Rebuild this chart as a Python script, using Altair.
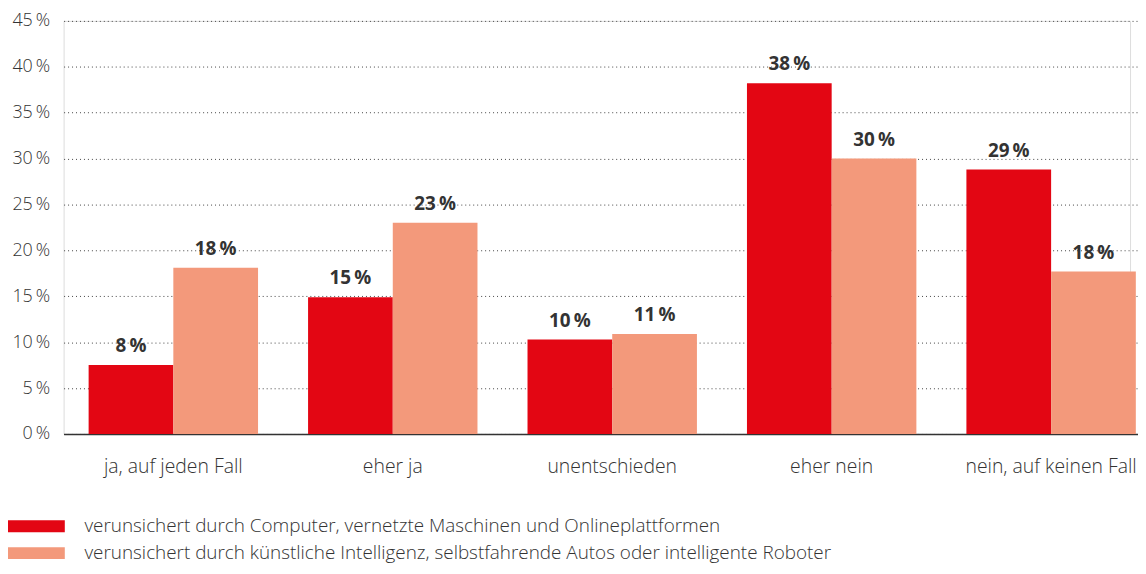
import altair as alt
import pandas as pd

categories = ["ja, auf jeden Fall", "eher ja", "unentschieden", "eher nein", "nein, auf keinen Fall"]
series = [
    "verunsichert durch Computer, vernetzte Maschinen und Onlineplattformen",
    "verunsichert durch künstliche Intelligenz, selbstfahrende Autos oder intelligente Roboter",
]
values_computer = [7.5, 14.9, 10.3, 38.2, 28.8]
values_ki = [18.1, 23.0, 10.9, 30.0, 17.7]
labels_computer = ["8\u2009%", "15\u2009%", "10\u2009%", "38\u2009%", "29\u2009%"]
labels_ki = ["18\u2009%", "23\u2009%", "11\u2009%", "30\u2009%", "18\u2009%"]
colors = ["#E30613", "#F3997B"]
y_ticks = [0, 5, 10, 15, 20, 25, 30, 35, 40, 45]

rows = []
for i, c in enumerate(categories):
    rows.append({"cat": c, "series": series[0], "value": values_computer[i], "label": labels_computer[i]})
    rows.append({"cat": c, "series": series[1], "value": values_ki[i], "label": labels_ki[i]})
df = pd.DataFrame(rows)

FONT = "Open Sans"
TXT = "#333333"

x = alt.X("cat:N", sort=categories, title=None,
          scale=alt.Scale(range=[0, 1105], paddingInner=0.228, paddingOuter=0.114),
          axis=alt.Axis(labelAngle=0, labelFontSize=19.5, labelColor=TXT, labelFont=FONT,
                        labelFontWeight=300, labelPadding=24, ticks=False,
                        domainColor="#333333", domainWidth=1.5, grid=False))
xoff = alt.XOffset("series:N", sort=series, scale=alt.Scale(paddingInner=0, paddingOuter=0))
y = alt.Y("value:Q", title=None,
          scale=alt.Scale(domain=[0, 45], nice=False),
          axis=alt.Axis(values=y_ticks, labelExpr="datum.value + '\u2009%'", labelFontSize=18,
                        labelColor=TXT, labelFont=FONT, labelFontWeight=300, labelPadding=14,
                        ticks=False, domain=False, grid=True, gridDash=[1, 3],
                        gridColor="#444444", gridWidth=1))

bars = alt.Chart(df).mark_bar().encode(
    x=x, xOffset=xoff, y=y,
    color=alt.Color("series:N", sort=series, scale=alt.Scale(domain=series, range=colors),
                    legend=alt.Legend(title=None, orient="none", legendX=-56, legendY=496,
                                      symbolType="M-1,-0.46H3.4V0.46H-1Z", symbolSize=676,
                                      symbolStrokeWidth=0, labelOffset=51, rowPadding=4,
                                      labelFontSize=19, labelColor=TXT, labelFont=FONT,
                                      labelFontWeight=300, labelLimit=1000, direction="vertical")),
)

text = alt.Chart(df).mark_text(baseline="bottom", dy=-9, fontSize=19, fontWeight="bold",
                               font=FONT, color=TXT).encode(
    x=alt.X("cat:N", sort=categories), xOffset=alt.XOffset("series:N", sort=series), y="value:Q",
    text="label:N",
)

chart = alt.layer(bars, text).properties(
    width=1074, height=416,
    autosize=alt.AutoSizeParams(type="none"),
    padding={"left": 56, "top": 11, "right": 8, "bottom": 131},
).configure_view(stroke=None).configure(background="white")

chart.save("out.html", embed_options={"renderer": "svg", "actions": False})
